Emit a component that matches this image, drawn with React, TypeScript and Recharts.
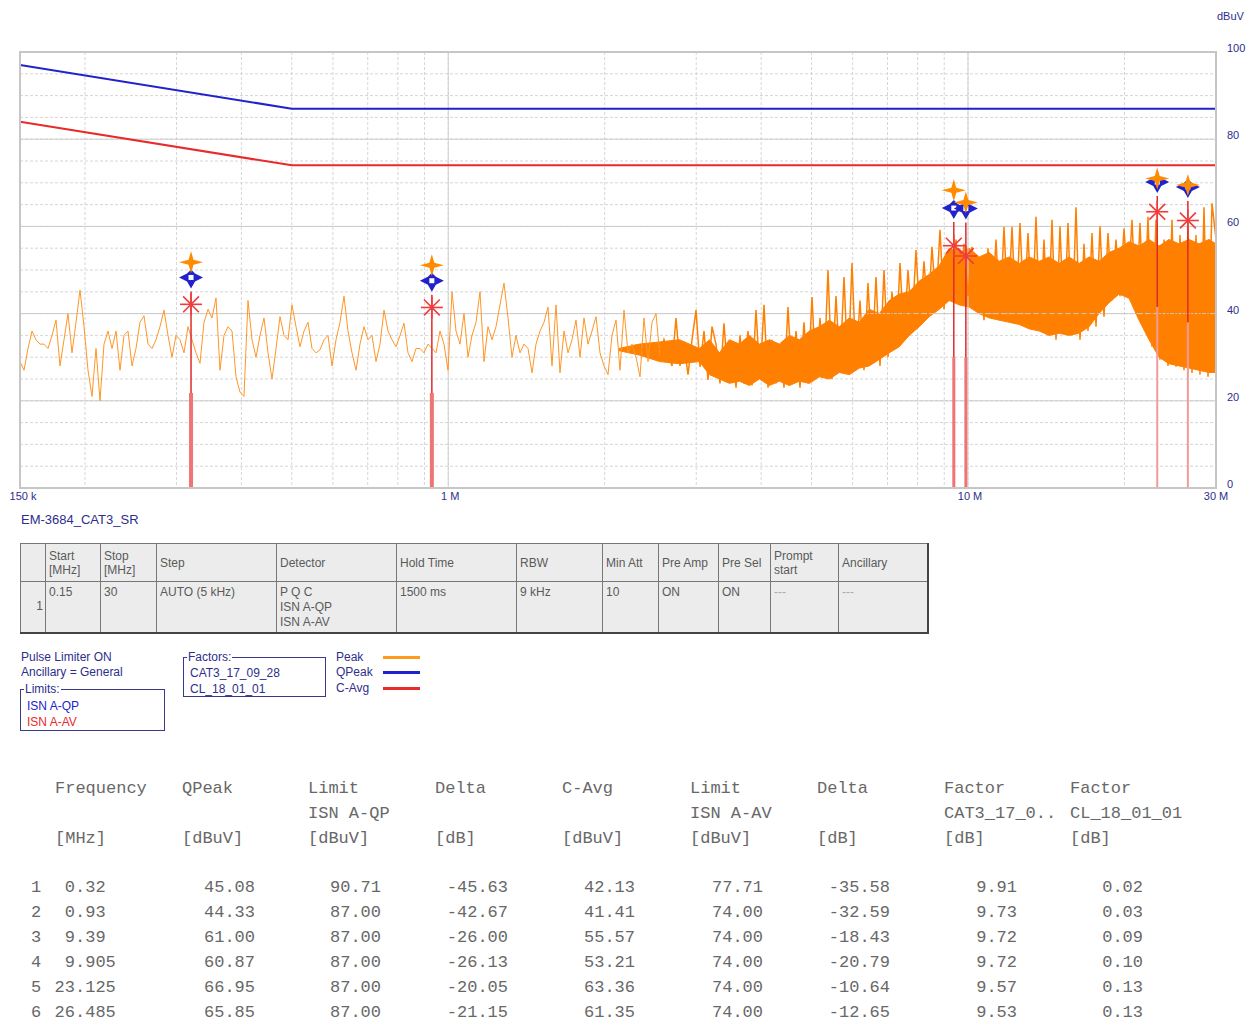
import React from 'react';
import { ComposedChart, Line, Area, Scatter, XAxis, YAxis, CartesianGrid, ReferenceLine } from 'recharts';

const traceStartMHz = 0.15;
const traceStopMHz = 30;
const denseFromIndex = 160;
const peakTrace = [
  29, 27, 32, 36, 34, 33, 33, 32, 35, 38.5,
  28, 34, 40, 31, 38, 45.4, 37, 27, 21, 32,
  20, 33, 36, 32, 36, 27, 35, 36, 28, 32,
  38, 39.5, 33, 32, 34, 37, 40.8, 35, 30, 35,
  34, 31, 37, 34, 31, 28.6, 38, 41, 39, 43.6,
  27, 35, 37, 36, 25.5, 22, 21, 43, 34, 30,
  35, 39, 31, 25, 32, 39.3, 35, 34, 42, 37,
  32.4, 36, 38, 32, 31, 31.7, 34, 35, 28, 34,
  38, 44, 36, 31, 27, 33, 37, 34, 35, 29,
  33, 40.8, 36, 34, 32.4, 35, 37.8, 31, 29, 32,
  32, 31, 33, 32, 31, 36, 33, 27, 45, 36,
  33, 40, 30, 35, 38, 45, 29, 37, 34, 37,
  42, 47, 39, 30, 35, 31, 33, 32, 26.4, 33,
  36, 38, 41.5, 28, 42, 26.4, 36, 31, 34, 38.5,
  30, 39, 33, 36, 39.3, 31, 28, 26, 35, 38.5,
  27, 40.8, 31, 33, 30, 25.5, 39, 29, 38, 40,
  30, 34, 31, 28, 39, 28, 33, 26, 34, 40.8,
  27.8, 36, 24.8, 37, 33, 24, 37.8, 25, 33, 23,
  35, 24, 36, 23.5, 40.8, 25, 42, 23, 34, 24,
  33, 23, 41.5, 24, 36, 23, 38, 24, 43.8, 25,
  39, 26, 50, 25, 44, 27, 48.4, 26.4, 51.6, 28,
  43, 27, 47, 29, 48.4, 28, 50, 30, 45, 32,
  51.6, 34, 50, 37, 54.6, 38, 52, 39.3, 55.3, 42.4,
  59.2, 41, 54, 44, 57, 45, 56, 44, 55.3, 41.5,
  52, 38.5, 55, 40, 57, 38.5, 59.9, 40, 59.9, 39,
  60.8, 40, 58.5, 37.8, 62.2, 36, 57, 35, 61.5, 34,
  60, 36, 60.8, 35, 64.4, 34, 56, 36, 58.5, 37,
  60, 39.3, 58.5, 43, 57, 44, 59.5, 45.4, 61.5, 40,
  60.8, 38.5, 62.2, 32.4, 61.5, 29.4, 57, 28, 61.5, 27.8,
  58, 27, 60, 26.4, 58, 26, 64.4, 25.5, 65.3, 57,
];

// solid core of the dense part of the peak trace (MHz, low dBuV, high dBuV)
const bandFreq = [
  2.13, 2.33, 2.55, 2.786,
  3.043, 3.181, 3.325, 3.475, 3.633, 3.797, 3.969, 4.149, 4.336, 4.533,
  4.737, 4.952, 5.176, 5.41, 5.655, 5.911, 6.179, 6.458, 6.75, 7.056,
  7.375, 7.709, 8.058, 8.423, 8.804, 9.203, 9.619, 10.05, 10.51, 10.99,
  11.48, 12.0, 12.55, 13.11, 13.71, 14.33, 14.97, 15.65, 16.36, 17.1,
  17.87, 18.68, 19.53, 20.41, 21.33, 22.3, 23.31, 24.36, 25.47, 26.62,
  27.82, 29.08, 30,
];
const bandLow = [
  31.5, 30.5, 29, 28.5,
  29, 26, 25, 24, 24.5, 23.5, 25, 23.5, 24.5, 23.5,
  24.5, 24, 25.5, 25, 26.5, 26, 27.5, 28, 29.5, 31,
  32.4, 35, 37, 39.3, 41, 43, 42, 41.5, 40, 39,
  38.5, 38, 37.5, 36.5, 36, 35, 35.5, 35, 35.5, 37,
  40, 42.5, 44.5, 43.5, 38.5, 34, 30, 28.5, 28, 27.5,
  27, 26.5, 26.5,
];
const bandHigh = [
  32, 33, 33.5, 34,
  32, 34, 31, 34, 33, 35, 33, 34, 33, 35,
  34, 36, 37, 38.5, 37, 39, 38, 41, 40, 43,
  44.5, 45, 47.5, 49, 51, 55, 54, 55, 53, 54,
  52, 53, 51.5, 53, 52, 53, 51.5, 53, 51.5, 53,
  52, 54, 55, 56.5, 55.5, 57, 55.5, 57, 56, 57,
  56, 57, 56,
];

// limits
const limitFreq = [0.15, 0.5, 30];
const qpLimit = [97, 87, 87];
const avLimit = [84, 74, 74];

// final measurement markers
const markerFreq = [0.32, 0.93, 9.39, 9.905, 23.125, 26.485];
const markerPeak = [51.8, 51.1, 68.3, 65.5, 71, 69.5];
const markerQPeak = [45.08, 44.33, 61.0, 60.87, 66.95, 65.85];
const markerCAvg = [42.13, 41.41, 55.57, 53.21, 63.36, 61.35];
const markerStemSplit = [21.8, 21.8, 30, 30, 41.5, 38];
const markerLimitQP = [90.71, 87.0, 87.0, 87.0, 87.0, 87.0];
const markerDeltaQP = [-45.63, -42.67, -26.0, -26.13, -20.05, -21.15];
const markerLimitAV = [77.71, 74.0, 74.0, 74.0, 74.0, 74.0];
const markerDeltaAV = [-35.58, -32.59, -18.43, -20.79, -10.64, -12.65];
const markerFactor1 = [9.91, 9.73, 9.72, 9.72, 9.57, 9.53];
const markerFactor2 = [0.02, 0.03, 0.09, 0.1, 0.13, 0.13];

// axes
const xGridTicks = [0.15, 0.2, 0.3, 0.4, 0.5, 0.6, 0.7, 0.8, 0.9, 1, 2, 3, 4, 5, 6, 7, 8, 9, 10, 20, 30];
const xTickLabels: Record<string, string> = { '0.15': '150 k', '1': '1 M', '10': '10 M', '30': '30 M' };
const xMajor = [1, 10];
const yGridTicks = [0, 5, 10, 15, 20, 25, 30, 35, 40, 45, 50, 55, 60, 65, 70, 75, 80, 85, 90, 95, 100];
const yLabelTicks = [0, 20, 40, 60, 80, 100];

// settings table
const settingsHeaders = ['', 'Start\n[MHz]', 'Stop\n[MHz]', 'Step', 'Detector', 'Hold Time', 'RBW', 'Min Att', 'Pre Amp', 'Pre Sel', 'Prompt\nstart', 'Ancillary'];
const settingsRow = ['1', '0.15', '30', 'AUTO (5 kHz)', 'P Q C\nISN A-QP\nISN A-AV', '1500 ms', '9 kHz', '10', 'ON', 'ON', '---', '---'];
const settingsColWidths = [25, 55, 56, 120, 120, 120, 86, 56, 60, 52, 68, 89];

// result table headers
const resHead1 = ['Frequency', 'QPeak', 'Limit', 'Delta', 'C-Avg', 'Limit', 'Delta', 'Factor', 'Factor'];
const resHead2 = ['', '', 'ISN A-QP', '', '', 'ISN A-AV', '', 'CAT3_17_0..', 'CL_18_01_01'];
const resHead3 = ['[MHz]', '[dBuV]', '[dBuV]', '[dB]', '[dBuV]', '[dBuV]', '[dB]', '[dB]', '[dB]'];

const traceData = peakTrace.map((v, i) => ({
  f: traceStartMHz * Math.pow(traceStopMHz / traceStartMHz, i / (peakTrace.length - 1)),
  v,
}));
const traceSparse = traceData.slice(0, denseFromIndex + 1);
const traceDense = traceData.slice(denseFromIndex);
const bandData = bandFreq.map((f, i) => ({ f, v: [bandLow[i], bandHigh[i]] }));
const qpData = limitFreq.map((f, i) => ({ f, v: qpLimit[i] }));
const avData = limitFreq.map((f, i) => ({ f, v: avLimit[i] }));
const peakMk = markerFreq.map((f, i) => ({ f, v: markerPeak[i] }));
const qpMk = markerFreq.map((f, i) => ({ f, v: markerQPeak[i] }));
const avMk = markerFreq.map((f, i) => ({ f, v: markerCAvg[i] }));

const BLUE = '#2222cc';
const RED = '#e82a2a';
const NAVY = '#2e2e8c';
const SANS = '"Liberation Sans", Arial, sans-serif';
const MONO = '"Liberation Mono", "Courier New", monospace';

const PeakShape = (p: any) => {
  const { cx, cy } = p;
  if (cx == null || cy == null) return <g />;
  return (
    <path
      d={`M${cx},${cy - 11} L${cx + 2.5},${cy - 2.5} L${cx + 12},${cy} L${cx + 2.5},${cy + 2.5} L${cx},${cy + 11} L${cx - 2.5},${cy + 2.5} L${cx - 12},${cy} L${cx - 2.5},${cy - 2.5} Z`}
      fill="#ff8c00"
    />
  );
};

const QPShape = (p: any) => {
  const { cx, cy } = p;
  if (cx == null || cy == null) return <g />;
  const c = cy - 14;
  return (
    <g>
      <path
        d={`M${cx},${c - 8} L${cx + 4},${c - 4} L${cx + 12},${c} L${cx + 4},${c + 4} L${cx},${c + 11} L${cx - 4},${c + 4} L${cx - 12},${c} L${cx - 4},${c - 4} Z`}
        fill={BLUE}
      />
      <rect x={cx - 2.5} y={c - 2.5} width={5} height={5} fill="#fff" />
    </g>
  );
};

const AvgShape = (p: any) => {
  const { cx, cy } = p;
  if (cx == null || cy == null) return <g />;
  const r = 11;
  const d = r * 0.72;
  return (
    <g stroke="#f03c3c" strokeWidth={1.6}>
      <line x1={cx - r} y1={cy} x2={cx + r} y2={cy} />
      <line x1={cx} y1={cy - r} x2={cx} y2={cy + r} />
      <line x1={cx - d} y1={cy - d} x2={cx + d} y2={cy + d} />
      <line x1={cx - d} y1={cy + d} x2={cx + d} y2={cy - d} />
    </g>
  );
};

const XTick = (p: any) => {
  const { x, payload } = p;
  const label = xTickLabels[String(payload.value)];
  if (!label) return <g />;
  const shift = payload.value === 0.15 ? 3 : payload.value === 30 ? 0 : 2;
  return (
    <text x={x + shift} y={488 + 12} textAnchor="middle" fontSize={11} fontFamily={SANS} fill={NAVY}>
      {label}
    </text>
  );
};

const YTick = (p: any) => {
  const { y, payload } = p;
  if (!yLabelTicks.includes(payload.value)) return <g />;
  return (
    <text x={1227} y={y} textAnchor="start" fontSize={11} fontFamily={SANS} fill={NAVY}>
      {String(payload.value)}
    </text>
  );
};

const abs = (left: number, top: number, extra: React.CSSProperties = {}): React.CSSProperties => ({
  position: 'absolute',
  left,
  top,
  whiteSpace: 'pre',
  ...extra,
});

const charW = 10.2;
const resColLeft = [55, 182, 308, 435, 562, 690, 817, 944, 1070];
const resRowY = [888, 913, 938, 963, 988, 1013];

export default function App() {
  const rowCells = (i: number) => [
    markerQPeak[i].toFixed(2),
    markerLimitQP[i].toFixed(2),
    markerDeltaQP[i].toFixed(2),
    markerCAvg[i].toFixed(2),
    markerLimitAV[i].toFixed(2),
    markerDeltaAV[i].toFixed(2),
    markerFactor1[i].toFixed(2),
    markerFactor2[i].toFixed(2),
  ];
  const monoText: React.CSSProperties = { fontFamily: MONO, fontSize: 17, color: '#686868', lineHeight: '20px' };
  const smallText: React.CSSProperties = { fontFamily: SANS, fontSize: 12, lineHeight: '15px' };

  return (
    <div style={{ position: 'absolute', left: 0, top: 0, width: 1256, height: 1026, background: '#fff', overflow: 'hidden' }}>
      <div style={abs(1217, 9, { fontFamily: SANS, fontSize: 11, color: NAVY, lineHeight: '14px' })}>dBuV</div>
      <div style={{ position: 'absolute', left: 0, top: 0 }}>
        <ComposedChart width={1256} height={510} margin={{ top: 52, right: 0, bottom: 0, left: 20 }}>
          <CartesianGrid stroke="#d6d6d6" strokeDasharray="3 2" />
          <XAxis
            dataKey="f"
            type="number"
            scale="log"
            domain={[0.15, 30]}
            allowDataOverflow
            ticks={xGridTicks}
            interval={0}
            tick={<XTick />}
            axisLine={false}
            tickLine={false}
            height={22}
          />
          <YAxis
            dataKey="v"
            type="number"
            orientation="right"
            domain={[0, 100]}
            allowDataOverflow
            ticks={yGridTicks}
            interval={0}
            tick={<YTick />}
            axisLine={false}
            tickLine={false}
            width={40}
          />
          {yLabelTicks.slice(1, 5).map((v) => (
            <ReferenceLine key={'yg' + v} y={v} stroke="#cccccc" strokeWidth={1} />
          ))}
          {xMajor.map((v) => (
            <ReferenceLine key={'xg' + v} x={v} stroke="#d0d0d0" strokeWidth={1} />
          ))}
          <Area data={bandData} dataKey="v" stroke="#ff8000" strokeWidth={1} fill="#ff8000" fillOpacity={1} isAnimationActive={false} dot={false} activeDot={false} />
          <Line data={traceSparse} dataKey="v" stroke="#ff9626" strokeWidth={1} dot={false} activeDot={false} isAnimationActive={false} />
          <Line data={traceDense} dataKey="v" stroke="#ff8000" strokeWidth={1.5} dot={false} activeDot={false} isAnimationActive={false} />
          <Line data={qpData} dataKey="v" stroke={BLUE} strokeWidth={2} dot={false} activeDot={false} isAnimationActive={false} />
          <Line data={avData} dataKey="v" stroke={RED} strokeWidth={2} dot={false} activeDot={false} isAnimationActive={false} />
          {markerFreq.map((f, i) => (
            <ReferenceLine
              key={'stemA' + i}
              segment={[{ x: f, y: 0 }, { x: f, y: markerStemSplit[i] }]}
              stroke={i < 4 ? '#f07474' : '#f29a9a'}
              strokeWidth={i < 2 ? 4 : i < 4 ? 3 : 2}
            />
          ))}
          {markerFreq.map((f, i) => (
            <ReferenceLine
              key={'stemB' + i}
              segment={[{ x: f, y: markerStemSplit[i] }, { x: f, y: markerQPeak[i] }]}
              stroke="#e02a2a"
              strokeWidth={1.5}
            />
          ))}
          <Scatter data={avMk} dataKey="v" shape={AvgShape} isAnimationActive={false} />
          <Scatter data={qpMk} dataKey="v" shape={QPShape} isAnimationActive={false} />
          <Scatter data={peakMk} dataKey="v" shape={PeakShape} isAnimationActive={false} />
        </ComposedChart>
      </div>
      <div style={{ position: 'absolute', left: 19, top: 51, width: 1198, height: 438, boxSizing: 'border-box', border: '2px solid #c6c6c6', pointerEvents: 'none' }} />

      <div style={abs(21, 512, { fontFamily: SANS, fontSize: 13, color: NAVY, lineHeight: '16px' })}>EM-3684_CAT3_SR</div>

      <table
        style={{
          position: 'absolute',
          left: 20,
          top: 543,
          borderCollapse: 'collapse',
          background: '#ececec',
          fontFamily: SANS,
          fontSize: 12,
          color: '#5a5a5a',
          tableLayout: 'fixed',
          width: 907,
          borderRight: '2px solid #444',
          borderBottom: '2px solid #444',
        }}
      >
        <colgroup>
          {settingsColWidths.map((w, i) => (
            <col key={i} style={{ width: w }} />
          ))}
        </colgroup>
        <tbody>
          <tr style={{ height: 38 }}>
            {settingsHeaders.map((h, i) => (
              <td key={i} style={{ border: '1px solid #777', padding: '0 3px', verticalAlign: 'middle', whiteSpace: 'pre-line', lineHeight: '14px' }}>
                {h}
              </td>
            ))}
          </tr>
          <tr style={{ height: 51 }}>
            {settingsRow.map((h, i) => (
              <td
                key={i}
                style={{
                  border: '1px solid #777',
                  padding: i === 0 ? '0 2px' : '3px 3px 0 3px',
                  verticalAlign: i === 0 ? 'middle' : 'top',
                  textAlign: i === 0 ? 'right' : 'left',
                  whiteSpace: 'pre-line',
                  lineHeight: '15px',
                  color: h === '---' ? '#aaa' : '#5a5a5a',
                }}
              >
                {h}
              </td>
            ))}
          </tr>
        </tbody>
      </table>

      {/* notes and legends */}
      <div style={abs(21, 650, { ...smallText, color: NAVY })}>{'Pulse Limiter ON\nAncillary = General'}</div>
      <div style={{ position: 'absolute', left: 20, top: 689, width: 145, height: 42, boxSizing: 'border-box', border: '1px solid #3a3a88' }} />
      <div style={abs(24, 682, { ...smallText, color: NAVY, background: '#fff', padding: '0 1px' })}>Limits:</div>
      <div style={abs(27, 699, { ...smallText, color: BLUE })}>ISN A-QP</div>
      <div style={abs(27, 715, { ...smallText, color: RED })}>ISN A-AV</div>

      <div style={{ position: 'absolute', left: 183, top: 657, width: 143, height: 40, boxSizing: 'border-box', border: '1px solid #3a3a88' }} />
      <div style={abs(187, 650, { ...smallText, color: NAVY, background: '#fff', padding: '0 1px' })}>Factors:</div>
      <div style={abs(190, 666, { ...smallText, color: NAVY })}>CAT3_17_09_28</div>
      <div style={abs(190, 682, { ...smallText, color: NAVY })}>CL_18_01_01</div>

      <div style={abs(336, 650, { ...smallText, color: NAVY })}>Peak</div>
      <div style={{ position: 'absolute', left: 383, top: 656, width: 37, height: 3, background: '#ff9a20' }} />
      <div style={abs(336, 665, { ...smallText, color: NAVY })}>QPeak</div>
      <div style={{ position: 'absolute', left: 383, top: 671, width: 37, height: 3, background: BLUE }} />
      <div style={abs(336, 681, { ...smallText, color: NAVY })}>C-Avg</div>
      <div style={{ position: 'absolute', left: 383, top: 687, width: 37, height: 3, background: RED }} />

      {/* result table */}
      {[resHead1, resHead2, resHead3].map((row, r) =>
        row.map((t, c) =>
          t ? (
            <div key={`h${r}-${c}`} style={abs(resColLeft[c], 779 + r * 25, monoText)}>
              {t}
            </div>
          ) : null
        )
      )}
      {markerFreq.map((f, i) => {
        const fs = String(f);
        const intLen = fs.split('.')[0].length;
        return (
          <React.Fragment key={'r' + i}>
            <div style={abs(31, resRowY[i] - 10, monoText)}>{String(i + 1)}</div>
            <div style={abs(75 - intLen * charW, resRowY[i] - 10, monoText)}>{fs}</div>
            {rowCells(i).map((t, c) => (
              <div
                key={'c' + c}
                style={{
                  ...monoText,
                  position: 'absolute',
                  top: resRowY[i] - 10,
                  left: resColLeft[c + 1],
                  width: 73,
                  textAlign: 'right',
                  whiteSpace: 'pre',
                }}
              >
                {t}
              </div>
            ))}
          </React.Fragment>
        );
      })}
    </div>
  );
}
